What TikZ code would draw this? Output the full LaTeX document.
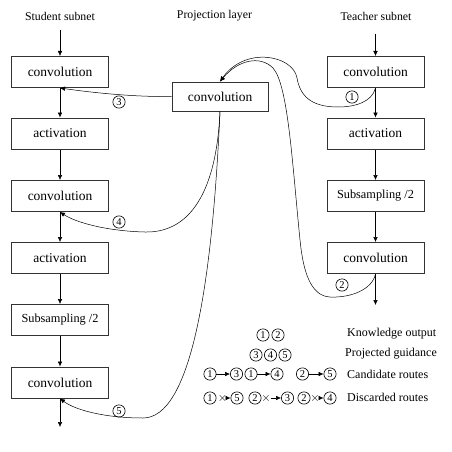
\documentclass[tikz,border=0pt]{standalone}
\usepackage{fontspec}
\setmainfont{Liberation Serif}
\usetikzlibrary{arrows.meta}
\begin{document}
\begin{tikzpicture}[x=1pt,y=-1pt,
  blk/.style={draw=black!80, line width=1pt, minimum width=97pt, minimum height=31pt, inner sep=0pt, font=\fontsize{13.5}{13.5}\selectfont},
  smallblk/.style={blk, font=\fontsize{12.3}{12.3}\selectfont},
  num/.style={circle, draw, line width=0.6pt, inner sep=0pt, minimum size=12.3pt, font=\fontsize{10.5}{10.5}\selectfont},
  ttl/.style={font=\fontsize{11.8}{11.8}\selectfont},
  lg/.style={font=\fontsize{12}{12}\selectfont, anchor=west, inner sep=0pt},
  crs/.style={inner sep=0pt, font=\fontsize{13}{13}\selectfont},
  ar/.style={-{Latex[length=5pt,width=4.5pt]}, line width=0.5pt},
  link/.style={-{Latex[length=5pt,width=4.5pt]}, line width=0.5pt}]
\useasboundingbox (0,0) rectangle (452,452);
% titles
\node[ttl] (ts) at (60,16) {Student subnet};
\node[ttl] (tp) at (214.5,16) {Projection layer};
\node[ttl] (tt) at (376,16) {Teacher subnet};
% student column
\node[blk] (s1) at (60,72) {convolution};
\node[blk] (s2) at (60,133.5) {activation};
\node[blk] (s3) at (60,196) {convolution};
\node[blk] (s4) at (60,258) {activation};
\node[smallblk] (s5) at (60,320) {Subsampling /2};
\node[blk] (s6) at (60,382.5) {convolution};
\coordinate (sin) at (60,30);
\coordinate (sout) at (60,427);
% projection
\node[blk, minimum width=96pt, minimum height=29pt] (p) at (220,96.5) {convolution};
% teacher column
\node[blk] (t1) at (375.5,72) {convolution};
\node[blk] (t2) at (375.5,133.5) {activation};
\node[smallblk] (t3) at (375.5,196) {Subsampling /2};
\node[blk] (t4) at (375.5,258) {convolution};
\coordinate (tin) at (375.5,34);
\coordinate (tout) at (375.5,305);
% column arrows
\draw[ar] (sin) -- (s1);
\draw[ar] (s1) -- (s2);
\draw[ar] (s2) -- (s3);
\draw[ar] (s3) -- (s4);
\draw[ar] (s4) -- (s5);
\draw[ar] (s5) -- (s6);
\draw[ar] (s6) -- (sout);
\draw[ar] (tin) -- (t1);
\draw[ar] (t1) -- (t2);
\draw[ar] (t2) -- (t3);
\draw[ar] (t3) -- (t4);
\draw[ar] (t4) -- (tout);
% links
\draw[link] (t1.south) .. controls (372,102) and (355,107) .. (338,107)
  .. controls (310,107) and (300,95) .. (297,78)
  .. controls (293,55) and (245,46) .. (p.north);
\draw[link] (t4.south) .. controls (372,290) and (350,298) .. (330,297)
  .. controls (310,296) and (303,270) .. (300,240)
  .. controls (292,160) and (288,85) .. (273,68)
  .. controls (260,55) and (238,60) .. (p.north);
\draw[link] (p.west) .. controls (135,97) and (95,93) .. (s1.south);
\draw[link] (p.south) .. controls (216,200) and (185,233) .. (145,232)
  .. controls (105,231) and (75,222) .. (s3.south);
\draw[link] (p.south) .. controls (212,290) and (190,418) .. (143,418)
  .. controls (105,418) and (75,410) .. (s6.south);
% link labels
\node[num] (l1) at (352,97) {1};
\node[num] (l2) at (342,285) {2};
\node[num] (l3) at (119,102) {3};
\node[num] (l4) at (119,222) {4};
\node[num] (l5) at (119,411) {5};
% legend
\node[num] (k1) at (263,335) {1};
\node[num] (k2) at (278,335) {2};
\node[lg] (kt) at (347,334) {Knowledge output};
\node[num] (g3) at (256,355) {3};
\node[num] (g4) at (270.5,355) {4};
\node[num] (g5) at (285,355) {5};
\node[lg] (gt) at (345,354) {Projected guidance};
\node[num] (c1a) at (210,374) {1};
\node[num] (c3) at (236.5,374) {3};
\node[num] (c1b) at (251,374) {1};
\node[num] (c4) at (277,374) {4};
\node[num] (c2) at (302.5,374) {2};
\node[num] (c5) at (330,374) {5};
\draw[ar] (c1a) -- (c3);
\draw[ar] (c1b) -- (c4);
\draw[ar] (c2) -- (c5);
\node[lg] (ct) at (347,374) {Candidate routes};
\node[num] (d1) at (210,398) {1};
\node[crs] (x1) at (222.5,398) {$\times$};
\node[num] (d5) at (237,398) {5};
\node[num] (d2a) at (255,398) {2};
\node[crs] (x2) at (266,398) {$\times$};
\node[num] (d3) at (287.5,398) {3};
\node[num] (d2b) at (304,398) {2};
\node[crs] (x3) at (315,398) {$\times$};
\node[num] (d4) at (330,398) {4};
\draw[ar] (x1) -- (d5);
\draw[ar] (x2) -- (d3);
\draw[ar] (x3) -- (d4);
\node[lg] (dt) at (347,397) {Discarded routes};
\end{tikzpicture}
\end{document}
